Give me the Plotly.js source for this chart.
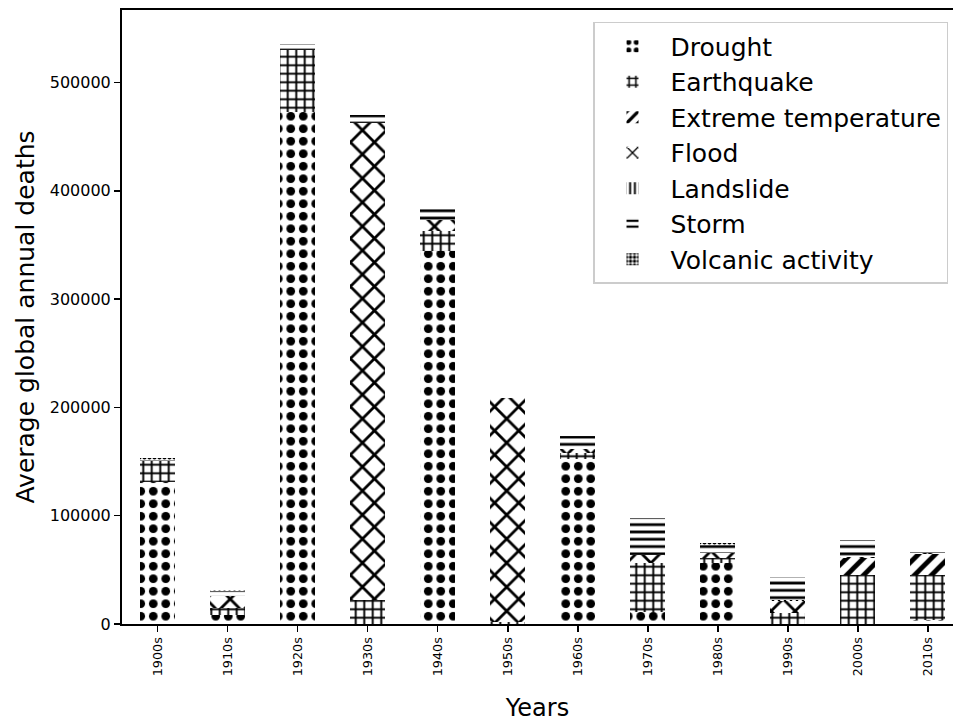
<!DOCTYPE html>
<html>
<head>
<meta charset="utf-8">
<script src="https://cdn.plot.ly/plotly-3.0.1.min.js"></script>
<style>html,body{margin:0;padding:0;background:#fff;}#chart{width:953px;height:722px;}</style>
</head>
<body>
<div id="chart"></div>
<script>
const decades = ['1900s','1910s','1920s','1930s','1940s','1950s','1960s','1970s','1980s','1990s','2000s','2010s'];
const drought     = [131000, 8000, 473000, 0, 344000, 0, 152000, 11500, 56500, 0, 0, 3500];
const earthquake  = [19500, 6500, 57000, 22000, 18500, 1500, 6000, 44500, 4500, 10500, 45000, 42000];
const extremeTemp = [0, 0, 0, 0, 0, 0, 0, 0, 0, 0, 15500, 19500];
const flood       = [0, 11500, 0, 441000, 10500, 207000, 4000, 7500, 4500, 10500, 1500, 1000];
const landslide   = [0, 0, 0, 0, 0, 0, 0, 0, 500, 1000, 0, 0];
const storm       = [500, 4500, 6000, 7000, 10500, 2000, 12000, 34000, 6500, 21000, 15500, 2500];
const volcanic    = [2500, 500, 0, 0, 0, 0, 0, 0, 2500, 0, 0, 0];

const seriesNames = ['Drought','Earthquake','Extreme temperature','Flood','Landslide','Storm','Volcanic activity'];
const seriesData = [drought, earthquake, extremeTemp, flood, landslide, storm, volcanic];
const patterns = [
  {shape: '.', size: 12.5, solidity: 0.38},
  {shape: '+', size: 8.5, solidity: 0.4},
  {shape: '/', size: 12, solidity: 0.4},
  {shape: 'x', size: 17, solidity: 0.3},
  {shape: '|', size: 6, solidity: 0.4},
  {shape: '-', size: 7.3, solidity: 0.38},
  {shape: '.', size: 5, solidity: 0.55}
];

const traces = seriesNames.map((name, i) => ({
  type: 'bar',
  name: name,
  x: decades,
  y: seriesData[i],
  legendgroup: 'g' + i,
  marker: {
    color: 'white',
    line: {width: 0},
    pattern: Object.assign({fgcolor: 'black', bgcolor: 'white', fillmode: 'replace'}, patterns[i])
  },
  hoverinfo: 'x+y+name'
}));

const layout = {
  width: 953,
  height: 722,
  barmode: 'stack',
  bargap: 0.5,
  paper_bgcolor: 'white',
  plot_bgcolor: 'white',
  font: {family: 'DejaVu Sans, sans-serif', color: 'black'},
  margin: {l: 122, r: 0, t: 10, b: 98, pad: 0},
  xaxis: {
    type: 'category',
    range: [-0.51, 11.36],
    showline: true, linecolor: 'black', linewidth: 2, mirror: true,
    ticks: 'outside', ticklen: 6, tickwidth: 1.5, tickcolor: 'black',
    tickangle: -90,
    tickfont: {size: 12.8},
    showgrid: false, zeroline: false,
    title: {text: 'Years', font: {size: 24}, standoff: 30}
  },
  yaxis: {
    range: [0, 567000],
    tickvals: [0, 100000, 200000, 300000, 400000, 500000],
    ticktext: ['0', '100000', '200000', '300000', '400000', '500000'],
    showline: true, linecolor: 'black', linewidth: 2, mirror: false,
    ticks: 'outside', ticklen: 6, tickwidth: 1.5, tickcolor: 'black',
    tickfont: {size: 16},
    showgrid: false, zeroline: false,
    title: {text: 'Average global annual deaths', font: {size: 25}, standoff: 8}
  },
  legend: {
    x: 0.994, xanchor: 'right',
    y: 0.9805, yanchor: 'top',
    bgcolor: 'rgba(255,255,255,0.8)',
    bordercolor: '#cccccc', borderwidth: 1.5,
    font: {size: 25},
    tracegroupgap: 4,
    traceorder: 'normal',
    itemwidth: 66
  },
  showlegend: true
};

Plotly.newPlot('chart', traces, layout, {displayModeBar: false, staticPlot: true});
</script>
</body>
</html>
